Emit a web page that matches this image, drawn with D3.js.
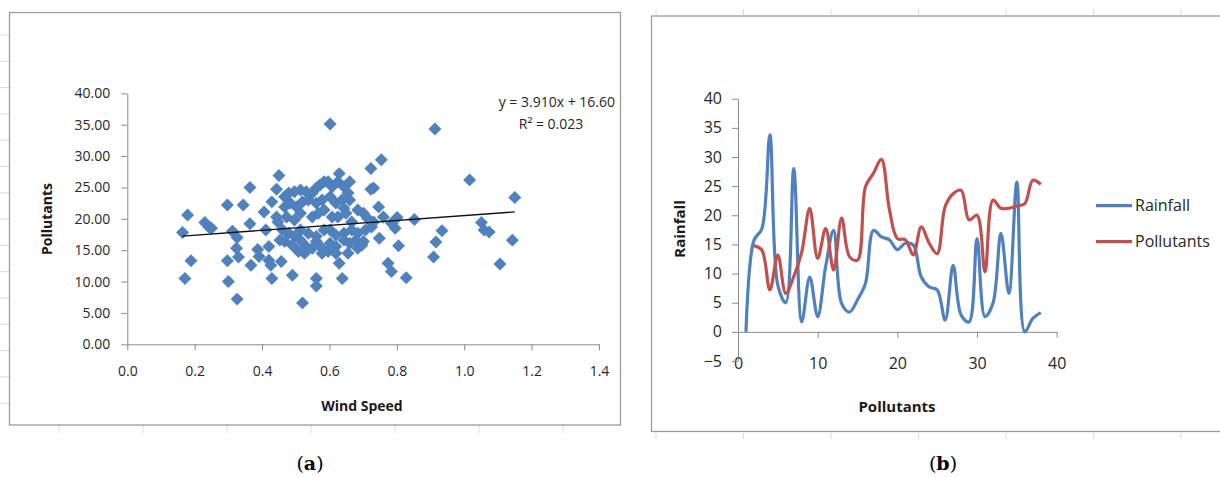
<!DOCTYPE html>
<html>
<head>
<meta charset="utf-8">
<script src="https://cdn.jsdelivr.net/npm/d3@7"></script>
<style>
  body { margin: 0; background: #fff; }
  svg { display: block; }
  .tick text { font-family: "Open Sans", sans-serif; fill: #262626; }
  .domain, .tick line { stroke: #8a8a8a; }
</style>
</head>
<body>
<div id="chart"></div>
<script>
// Panel (a): wind speed vs pollutants scatter
var windSpeed = [
	0.164, 0.179, 0.171, 0.189, 0.230, 0.242, 0.250, 0.297, 0.297, 0.300,
	0.312, 0.324, 0.326, 0.330, 0.326, 0.344, 0.364, 0.364, 0.367, 0.387,
	0.391, 0.406, 0.411, 0.420, 0.420, 0.429, 0.429, 0.426, 0.443, 0.450,
	0.447, 0.453, 0.457, 0.490, 0.520, 0.561, 0.561, 0.602, 0.629, 0.638,
	0.723, 0.754, 0.748, 0.731, 0.723, 0.746, 0.774, 0.784, 0.805, 0.828,
	0.852, 0.913, 0.909, 0.916, 0.934, 1.016, 1.051, 1.059, 1.074, 1.106,
	1.150, 1.143, 0.801, 0.795, 0.784, 0.760,
	0.467, 0.479, 0.496, 0.514, 0.531, 0.549, 0.561, 0.572, 0.584, 0.596,
	0.608, 0.625, 0.629, 0.643, 0.660, 0.655, 0.660,
	0.467, 0.484, 0.502, 0.520, 0.537, 0.561, 0.578, 0.602, 0.619, 0.637, 0.643,
	0.473, 0.496, 0.514, 0.549, 0.567, 0.584, 0.608, 0.625, 0.649, 0.666,
	0.684, 0.701, 0.713, 0.731,
	0.461, 0.479, 0.496, 0.514, 0.537, 0.561, 0.584, 0.602, 0.619, 0.643,
	0.666, 0.684, 0.707, 0.725,
	0.467, 0.490, 0.514, 0.531, 0.561, 0.578, 0.602, 0.619, 0.643, 0.660,
	0.678, 0.696,
	0.508, 0.526, 0.549, 0.578, 0.596, 0.619, 0.655, 0.684, 0.701, 0.443
];
var pollutants = [
	17.8, 20.6, 10.5, 13.3, 19.4, 18.7, 18.5, 22.2, 13.3, 10.0,
	18.0, 15.3, 17.0, 13.9, 7.2, 22.2, 25.0, 19.2, 12.6, 15.1,
	14.0, 21.1, 18.2, 13.4, 15.6, 22.7, 10.5, 12.6, 24.7, 26.9,
	19.5, 16.6, 13.2, 11.0, 6.6, 10.5, 9.3, 35.1, 12.9, 10.5,
	28.0, 29.4, 16.9, 24.9, 24.7, 21.9, 12.9, 11.6, 15.7, 10.6,
	19.9, 34.3, 13.9, 16.3, 18.1, 26.2, 19.4, 18.2, 17.9, 12.8,
	23.4, 16.6, 20.2, 18.5, 19.3, 20.3,
	23.5, 24.1, 24.3, 24.6, 24.3, 24.1, 24.9, 25.4, 25.9, 25.9,
	25.1, 25.9, 27.2, 25.1, 25.9, 24.1, 23.0,
	21.9, 22.5, 21.9, 22.7, 23.0, 22.5, 23.0, 23.5, 22.5, 23.0, 21.7,
	20.3, 19.8, 20.9, 20.3, 20.9, 21.4, 20.3, 20.3, 20.9, 19.5,
	21.4, 20.9, 20.1, 19.5,
	18.2, 17.7, 17.2, 18.2, 17.7, 17.2, 18.2, 18.2, 17.4, 17.7,
	18.2, 17.7, 18.2, 18.7,
	16.4, 15.8, 16.6, 15.6, 16.4, 15.3, 16.1, 15.6, 16.6, 16.1,
	16.6, 15.8,
	14.8, 14.5, 15.3, 14.5, 14.8, 14.5, 14.5, 15.3, 16.4, 20.3
];
var trendSlope = 3.910, trendIntercept = 16.60;
var windTicks = [0, 0.2, 0.4, 0.6, 0.8, 1.0, 1.2, 1.4];
var pollTicks = [0, 5, 10, 15, 20, 25, 30, 35, 40];

// Panel (b): rainfall and pollutants series
var rainDays = d3.range(1, 39);
var rainfall = [0, 15.7, 17.7, 33.8, 8, 5, 28, 1.7, 9.4, 2.6,
	11.2, 17.4, 4.9, 3.4, 5.5, 8.3, 17.4, 16.3, 15.8, 14.1,
	15.2, 14.9, 9.4, 7.7, 7.2, 2.0, 11.4, 2.9, 1.7, 16.0,
	2.6, 4.9, 16.9, 6.6, 25.7, 0, 2.3, 3.3];
var pollDays = d3.range(2, 39);
var pollSeries = [14.8, 14.0, 7.2, 13.2, 6.6, 9.5, 13.7, 21.2, 12.6,
	17.7, 10.6, 19.5, 12.9, 12.3, 24.9, 27.2, 29.6, 21.0, 16.0,
	15.8, 13.2, 18.0, 15.2, 13.4, 21.5, 23.7, 24.3, 19.2, 20.0,
	10.3, 22.6, 21.2, 21.2, 21.6, 22.0, 26.0, 25.3];
var dayTicks = [0, 10, 20, 30, 40];
var rainTicks = [-5, 0, 5, 10, 15, 20, 25, 30, 35, 40];
var seriesNames = ["Rainfall", "Pollutants"];
var seriesColors = ["#4f81bd", "#c0504d"];

var W = 1220, H = 477;
var svg = d3.select("#chart").append("svg")
	.attr("width", W)
	.attr("height", H);

var font = "'Open Sans', sans-serif";

// Sheet grid fragments around the pasted charts
var grid = svg.append("g").attr("stroke", "#d5dbe5").attr("stroke-width", 1);
d3.range(35, 410, 26.3).forEach(function (y) {
	grid.append("line").attr("x1", 0).attr("x2", 9).attr("y1", y).attr("y2", y);
});
d3.range(59, 600, 84).forEach(function (x) {
	grid.append("line").attr("x1", x).attr("x2", x).attr("y1", 426).attr("y2", 433);
});
d3.range(656, 1220, 87.5).forEach(function (x) {
	grid.append("line").attr("x1", x).attr("x2", x).attr("y1", 9).attr("y2", 15);
	grid.append("line").attr("x1", x).attr("x2", x).attr("y1", 433).attr("y2", 439);
});

// Chart frames
svg.append("rect").attr("x", 9.5).attr("y", 12.5).attr("width", 611).attr("height", 412.5)
	.attr("fill", "none").attr("stroke", "#9a9a9a").attr("stroke-width", 1.3);
svg.append("rect").attr("x", 651.5).attr("y", 16).attr("width", 580).attr("height", 415.5)
	.attr("fill", "none").attr("stroke", "#9a9a9a").attr("stroke-width", 1.3);

// ---------- Panel (a) ----------
var x = d3.scaleLinear().domain([0, 1.4]).range([127.3, 599]);
var y = d3.scaleLinear().domain([0, 40]).range([344.3, 93.3]);

var gA = svg.append("g");

gA.append("g")
	.attr("transform", "translate(0," + y(0) + ")")
	.call(d3.axisBottom(x).tickValues(windTicks).tickFormat(d3.format(".1f"))
		.tickSizeInner(6).tickSizeOuter(0).tickPadding(16))
	.call(function (g) { g.selectAll("text").style("font-size", "14px"); });

gA.append("g")
	.attr("transform", "translate(" + x(0) + ",0)")
	.call(d3.axisLeft(y).tickValues(pollTicks).tickFormat(d3.format(".2f"))
		.tickSizeInner(6).tickSizeOuter(0).tickPadding(11))
	.call(function (g) { g.selectAll("text").style("font-size", "14px"); });

gA.selectAll("path.pt")
	.data(windSpeed)
	.enter()
	.append("path")
	.attr("class", "pt")
	.attr("d", d3.symbol().type(d3.symbolSquare).size(84))
	.attr("transform", function (d, i) {
		return "translate(" + x(d) + "," + y(pollutants[i]) + ") rotate(45)";
	})
	.attr("fill", "#4f81bd");

var xMin = d3.min(windSpeed), xMax = d3.max(windSpeed);
gA.append("line")
	.attr("x1", x(xMin)).attr("y1", y(trendSlope * xMin + trendIntercept))
	.attr("x2", x(xMax)).attr("y2", y(trendSlope * xMax + trendIntercept))
	.attr("stroke", "#111").attr("stroke-width", 1.3);

gA.append("text")
	.attr("x", 615).attr("y", 107)
	.attr("text-anchor", "end")
	.style("font-family", font).style("font-size", "14px").attr("fill", "#262626")
	.text("y = " + trendSlope.toFixed(3) + "x + " + trendIntercept.toFixed(2));
gA.append("text")
	.attr("x", 551).attr("y", 129)
	.attr("text-anchor", "middle")
	.style("font-family", font).style("font-size", "14px").attr("fill", "#262626")
	.text("R\u00b2 = 0.023");

gA.append("text")
	.attr("x", 362).attr("y", 411)
	.attr("text-anchor", "middle")
	.style("font-family", font).style("font-size", "14px").style("font-weight", "bold")
	.attr("fill", "#1a1a1a")
	.text("Wind Speed");
gA.append("text")
	.attr("transform", "translate(52,219) rotate(-90)")
	.attr("text-anchor", "middle")
	.style("font-family", font).style("font-size", "14px").style("font-weight", "bold")
	.attr("fill", "#1a1a1a")
	.text("Pollutants");

// ---------- Panel (b) ----------
var x2 = d3.scaleLinear().domain([0, 40]).range([738, 1056.7]);
var y2 = d3.scaleLinear().domain([-5, 40]).range([361, 98.7]);

var gB = svg.append("g");

gB.append("g")
	.attr("transform", "translate(0," + y2(0) + ")")
	.call(d3.axisBottom(x2).tickValues(dayTicks)
		.tickSizeInner(6).tickSizeOuter(0).tickPadding(20))
	.call(function (g) { g.selectAll("text").style("font-size", "16px"); });

gB.append("g")
	.attr("transform", "translate(" + x2(0) + ",0)")
	.call(d3.axisLeft(y2).tickValues(rainTicks)
		.tickSizeInner(6).tickSizeOuter(0).tickPadding(10))
	.call(function (g) { g.selectAll("text").style("font-size", "16px"); });

var line = d3.line()
	.x(function (d) { return x2(d[0]); })
	.y(function (d) { return y2(d[1]); })
	.curve(d3.curveCatmullRom.alpha(0.5));

var seriesData = [
	rainDays.map(function (d, i) { return [d, rainfall[i]]; }),
	pollDays.map(function (d, i) { return [d, pollSeries[i]]; })
];

gB.selectAll("path.series")
	.data(seriesData)
	.enter()
	.append("path")
	.attr("class", "series")
	.attr("d", line)
	.attr("fill", "none")
	.attr("stroke", function (d, i) { return seriesColors[i]; })
	.attr("stroke-width", 3.2)
	.attr("stroke-linejoin", "round");

// Legend
var leg = gB.selectAll("g.leg")
	.data(seriesNames)
	.enter()
	.append("g")
	.attr("class", "leg")
	.attr("transform", function (d, i) { return "translate(1096," + (205.7 + i * 36) + ")"; });
leg.append("line")
	.attr("x1", 0).attr("x2", 36)
	.attr("stroke", function (d, i) { return seriesColors[i]; })
	.attr("stroke-width", 3.2);
leg.append("text")
	.attr("x", 39).attr("dy", "0.36em")
	.style("font-family", font).style("font-size", "16px").attr("fill", "#262626")
	.text(function (d) { return d; });

gB.append("text")
	.attr("x", 897).attr("y", 412)
	.attr("text-anchor", "middle")
	.style("font-family", font).style("font-size", "15px").style("font-weight", "bold")
	.attr("fill", "#1a1a1a")
	.text("Pollutants");
gB.append("text")
	.attr("transform", "translate(685,229) rotate(-90)")
	.attr("text-anchor", "middle")
	.style("font-family", font).style("font-size", "15px").style("font-weight", "bold")
	.attr("fill", "#1a1a1a")
	.text("Rainfall");

// Captions
[["a", 310], ["b", 943]].forEach(function (c) {
	var t = svg.append("text")
		.attr("x", c[1]).attr("y", 470)
		.attr("text-anchor", "middle")
		.style("font-family", "'DejaVu Serif', serif").style("font-size", "19px")
		.attr("fill", "#000");
	t.append("tspan").text("(");
	t.append("tspan").style("font-weight", "bold").text(c[0]);
	t.append("tspan").text(")");
});
</script>
</body>
</html>
